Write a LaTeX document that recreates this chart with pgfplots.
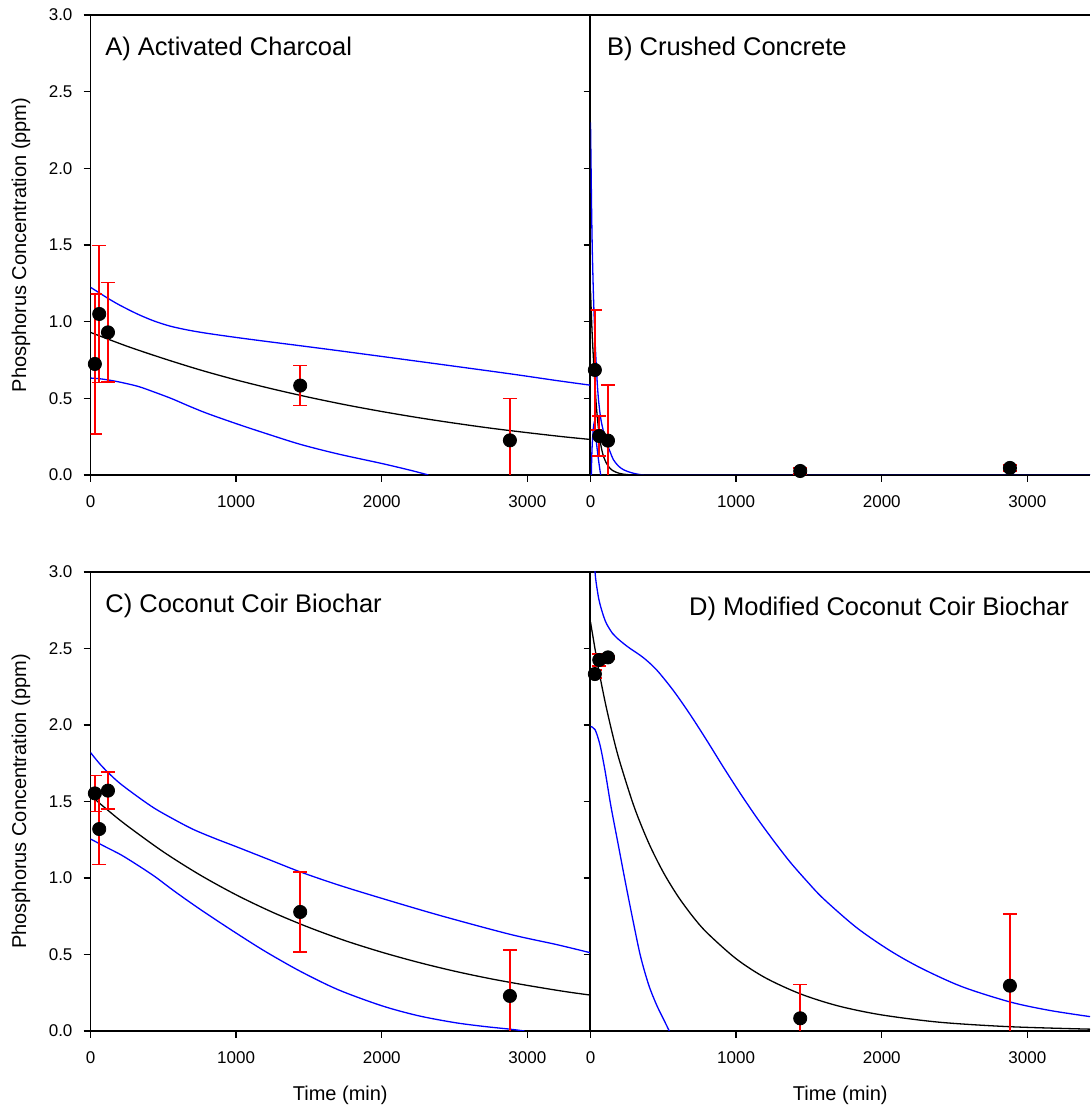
\documentclass[border=0pt]{standalone}
\usepackage{fontspec}
\setmainfont{Liberation Sans}
\usepackage{pgfplots}
\pgfplotsset{compat=1.18}
\definecolor{bandblue}{RGB}{0,0,255}
\definecolor{errred}{RGB}{255,0,0}

% 1 px of the reference = 0.5pt
\pgfplotsset{
  panel/.style={
    scale only axis, width=249.75pt,
    xmin=0, xmax=3430, ymin=0, ymax=3,
    xtick={0,1000,2000,3000}, ytick={0,0.5,1,1.5,2,2.5,3},
    tick align=outside, major tick length=3.5pt, tick pos=left,
    axis line style={line width=0.7pt},
    tick style={line width=0.7pt, black},
    tick label style={font=\fontsize{8.5}{10}\selectfont},
    xticklabel style={yshift=-3.5pt},
    yticklabel style={xshift=-2pt, /pgf/number format/.cd, fixed, fixed zerofill, precision=1},
    /pgf/number format/assume math mode=true,
    /pgf/number format/1000 sep={},
    label style={font=\fontsize{10.8}{13}\selectfont},
    every axis y label/.style={at={(axis description cs:-0.1391,0.5)}, rotate=90, anchor=center},
    every axis x label/.style={at={(axis description cs:0.5,-0.1394)}, anchor=center},
    clip mode=individual,
  },
  rightpanel/.style={axis x line*=box, axis y line*=left, yticklabels={}},
  fitline/.style={black, line width=0.65pt, mark=none, smooth},
  band/.style={bandblue, line width=0.65pt, mark=none, smooth},
  obs/.style={only marks, mark=*, mark size=3.3pt, black,
    error bars/.cd, y dir=both, y explicit,
    error bar style={draw=errred, line width=0.8pt},
    error mark options={draw=errred, line width=0.8pt, mark size=3.5pt, rotate=90}},
}
\tikzset{ptitle/.style={font=\fontsize{12.75}{15}\selectfont, anchor=base west, inner sep=0pt}}

\begin{document}
\begin{tikzpicture}
\path[use as bounding box] (0,0) rectangle (545pt,555.5pt);

% A) Activated Charcoal
\begin{axis}[panel, height=230pt, at={(45.25pt,318pt)}, anchor=south west,
  ylabel={Phosphorus Concentration (ppm)}]
  \addplot[band] coordinates {(0,1.224)(60,1.188)(120,1.152)(200,1.108)(326,1.048)(440,1.003)(550,0.970)
    (670,0.945)(800,0.924)(1000,0.897)(1200,0.872)(1440,0.843)(1700,0.811)(2000,0.773)(2400,0.722)
    (2880,0.660)(3200,0.616)(3430,0.586)};
  \addplot[band] coordinates {(0,0.632)(60,0.628)(120,0.620)(200,0.606)(326,0.578)(440,0.540)(560,0.497)
    (670,0.452)(800,0.402)(1000,0.335)(1200,0.272)(1440,0.200)(1700,0.137)(2000,0.075)(2200,0.030)(2320,0.0)};
  \addplot[fitline] coordinates {(0,0.930)(250,0.840)(500,0.760)(750,0.686)(1000,0.620)(1250,0.561)
    (1500,0.507)(1750,0.458)(2000,0.414)(2250,0.374)(2500,0.338)(2750,0.305)(3000,0.276)(3250,0.249)(3430,0.232)};
  \addplot[obs] table[x=t, y=c, y error=e] {
    t c e
    30 0.724 0.455
    60 1.050 0.446
    120 0.930 0.325
    1440 0.583 0.130
    2880 0.226 0.272
  };
  \node[ptitle] at (rel axis cs:0.029,0.913) {A) Activated Charcoal};
\end{axis}

% B) Crushed Concrete
\begin{axis}[panel, rightpanel, height=230pt, at={(295.25pt,318pt)}, anchor=south west]
  \addplot[band] coordinates {(0,2.30)(4,2.0)(8,1.7)(12,1.48)(16,1.32)(20,1.18)(27,0.98)(35,0.80)(45,0.62)
    (55,0.49)(70,0.37)(90,0.28)(111,0.21)(135,0.15)(157,0.10)(190,0.06)(225,0.035)(270,0.018)(320,0.006)
    (380,0)(600,0)(3430,0)};
  \addplot[band] coordinates {(0,-0.3)(8,0.1)(15,0.25)(24,0.335)(32,0.28)(42,0.2)(52,0.12)(62,0.05)(70,0)(80,-0.05)};
  \addplot[fitline] coordinates {(0,1.20)(10,0.95)(20,0.76)(30,0.60)(40,0.45)(55,0.30)(70,0.20)(85,0.135)
    (100,0.095)(120,0.06)(150,0.03)(200,0.01)(260,0.002)(350,0)(600,0)(3430,0)};
  \addplot[obs] table[x=t, y=c, y error=e] {
    t c e
    30 0.685 0.390
    60 0.254 0.130
    120 0.224 0.363
    1440 0.026 0.020
    2880 0.046 0.020
  };
  \node[ptitle] at (rel axis cs:0.0324,0.913) {B) Crushed Concrete};
\end{axis}

% C) Coconut Coir Biochar
\begin{axis}[panel, height=229.5pt, at={(45.25pt,40pt)}, anchor=south west,
  ylabel={Phosphorus Concentration (ppm)}, xlabel={Time (min)}]
  \addplot[band] coordinates {(0,1.82)(60,1.75)(120,1.69)(200,1.62)(326,1.53)(440,1.455)(560,1.39)
    (700,1.32)(850,1.26)(1000,1.205)(1200,1.13)(1440,1.04)(1700,0.955)(2000,0.867)(2400,0.755)
    (2880,0.632)(3200,0.565)(3430,0.512)};
  \addplot[band] coordinates {(0,1.255)(100,1.205)(212,1.15)(330,1.08)(441,1.01)(560,0.925)(670,0.85)
    (800,0.765)(1000,0.64)(1200,0.52)(1441,0.39)(1700,0.27)(2000,0.165)(2250,0.10)(2500,0.055)
    (2700,0.03)(2880,0.012)(2980,0)};
  \addplot[fitline] coordinates {(0,1.540)(120,1.442)(250,1.343)(500,1.171)(750,1.021)(1000,0.890)
    (1250,0.776)(1500,0.677)(1750,0.590)(2000,0.515)(2250,0.449)(2500,0.391)(2750,0.341)(3000,0.298)
    (3250,0.259)(3430,0.235)};
  \addplot[obs] table[x=t, y=c, y error=e] {
    t c e
    30 1.553 0.118
    60 1.320 0.232
    120 1.571 0.120
    1440 0.778 0.260
    2880 0.229 0.300
  };
  \node[ptitle] at (rel axis cs:0.029,0.912) {C) Coconut Coir Biochar};
\end{axis}

% D) Modified Coconut Coir Biochar
\begin{axis}[panel, rightpanel, height=229.5pt, at={(295.25pt,40pt)}, anchor=south west,
  xlabel={Time (min)}]
  \addplot[band] coordinates {(0,3.7)(15,3.3)(31,3.0)(50,2.86)(65,2.79)(90,2.71)(111,2.66)(150,2.60)
    (180,2.57)(230,2.53)(272,2.50)(363,2.44)(454,2.36)(569,2.225)(683,2.07)(798,1.90)(912,1.725)
    (1027,1.555)(1141,1.395)(1256,1.245)(1370,1.105)(1485,0.98)(1599,0.865)(1828,0.675)(2057,0.525)
    (2272,0.41)(2550,0.29)(2880,0.19)(3150,0.135)(3430,0.094)};
  \addplot[band] coordinates {(0,1.99)(31,1.97)(65,1.87)(100,1.70)(140,1.47)(190,1.22)(240,0.97)
    (290,0.73)(343,0.49)(400,0.30)(454,0.17)(500,0.08)(541,0)};
  \addplot[fitline] coordinates {(0,2.673)(50,2.393)(100,2.152)(150,1.944)(200,1.763)(300,1.464)
    (400,1.228)(500,1.037)(600,0.881)(700,0.751)(800,0.642)(1000,0.472)(1200,0.348)(1440,0.243)
    (1700,0.164)(2000,0.105)(2400,0.057)(2880,0.028)(3430,0.012)};
  \addplot[obs] table[x=t, y=c, y error=e] {
    t c e
    30 2.333 0.025
    60 2.425 0.040
    120 2.442 0.012
    1440 0.083 0.220
    2880 0.296 0.470
  };
  \node[ptitle] at (rel axis cs:0.1966,0.906) {D) Modified Coconut Coir Biochar};
\end{axis}
\end{tikzpicture}
\end{document}
